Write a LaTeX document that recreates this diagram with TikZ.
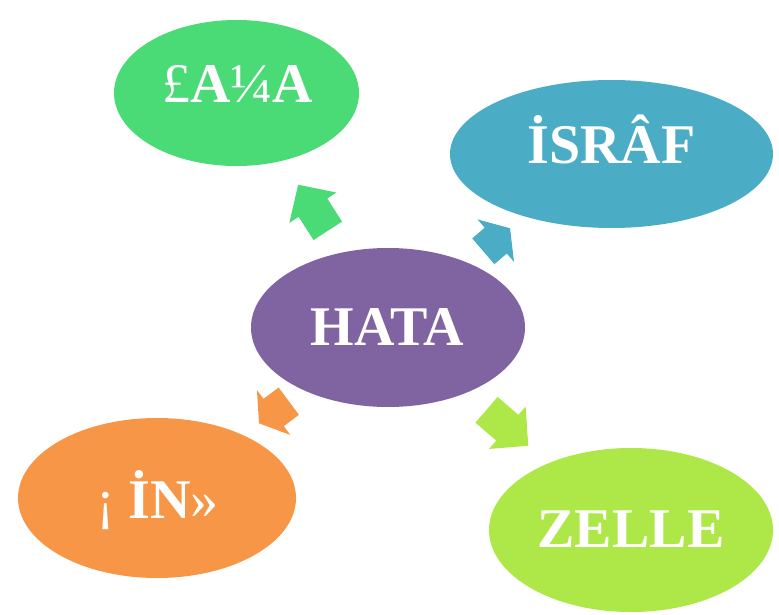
\documentclass[tikz,border=0pt]{standalone}
\usepackage{fontspec}
\setmainfont{Liberation Serif}
\usetikzlibrary{shapes.geometric}
\definecolor{cgreen}{HTML}{4ADA76}
\definecolor{cblue}{HTML}{4BACC6}
\definecolor{cpurple}{HTML}{8064A2}
\definecolor{corange}{HTML}{F79646}
\definecolor{clime}{HTML}{AEE848}
\tikzset{
  bubble/.style={ellipse, draw=none, inner sep=0pt},
  word/.style={text=white, font=\fontsize{56}{60}\selectfont\bfseries, anchor=base, inner sep=0pt},
  pics/barrow/.style args={#1/#2}{code={
    \path[pic actions] (0,-17) -- (#1,-17) -- (#1,-28) -- ({#1+#2},0) -- (#1,28) -- (#1,17) -- (0,17) -- cycle;
  }}
}
\begin{document}
\begin{tikzpicture}[x=1pt,y=-1pt]
\useasboundingbox (0,0) rectangle (779,615);
% ellipses
\node[bubble, fill=cgreen, minimum width=245pt, minimum height=146pt] (eg) at (236.5,93) {};
\node[bubble, fill=cblue, minimum width=323pt, minimum height=148pt] (eb) at (611.5,154) {};
\node[bubble, fill=cpurple, minimum width=274pt, minimum height=159pt] (ec) at (388,327.5) {};
\node[bubble, fill=corange, minimum width=278pt, minimum height=160pt] (eo) at (157,498) {};
\node[bubble, fill=clime, minimum width=284pt, minimum height=164pt] (el) at (631,530) {};
% texts
\node[word] (tg) at (237.5,102.7) {{\mdseries £}A{\mdseries ¼}A};
\node[word] (tb) at (611.5,164) {İSRÂF};
\node[word] (tc) at (387.5,345.7) {HATA};
\node[word] (to) at (157.5,518) {{\mdseries ¡}\hspace{14pt}İN{\mdseries »}};
\node[word] (tl) at (631,547.7) {ZELLE};
% block arrows
\pic (ag) [fill=cgreen, rotate=122.8] at (327.8,230.8) {barrow=27.5/27.3};
\pic (ab) [fill=cblue, rotate=40.7] at (483.3,251.3) {barrow=16.4/18.9};
\pic (ao) [fill=corange, rotate=216.6] at (288.8,401.2) {barrow=18.9/18.2};
\pic (al) [fill=clime, rotate=-40.7] at (486.5,409.8) {barrow=27.5/27.6};
\end{tikzpicture}
\end{document}
